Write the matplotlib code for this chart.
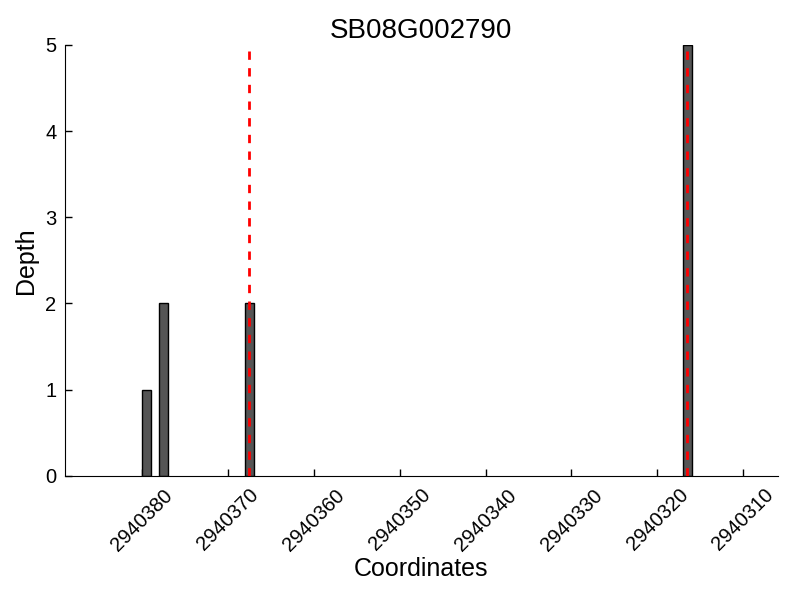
import matplotlib
matplotlib.use("Agg")
import matplotlib.pyplot as plt

gene = "SB08G002790"
positions = [2940379, 2940377, 2940367, 2940316]
depths = [1, 2, 2, 5]
marked = [2940367, 2940316]  # positions highlighted with red dashed lines
xticks = [2940380, 2940370, 2940360, 2940350, 2940340, 2940330, 2940320, 2940310]
yticks = [0, 1, 2, 3, 4, 5]

plt.rcParams['font.family'] = ['Liberation Sans', 'DejaVu Sans']
plt.rcParams['lines.scale_dashes'] = False


def plot_depth():
    fig = plt.figure(figsize=(8, 6), dpi=100)
    ax = fig.add_axes([0.081, 0.207, 0.891, 0.718])

    ax.bar(positions, depths, width=1, align='edge',
           color='#555555', edgecolor='black', linewidth=1, zorder=2)
    for p in marked:
        ax.vlines(p + 0.5, 0, max(depths), colors='red',
                  linestyles=(0, (6, 6)), linewidth=2, zorder=3)

    ax.set_xlim(max(positions) + 10, min(positions) - 10)
    ax.set_ylim(0, max(depths))
    ax.set_xticks(xticks)
    ax.set_xticklabels([str(t) for t in xticks], rotation=45, ha='center')
    ax.set_yticks(yticks)
    ax.set_axisbelow(True)

    ax.spines['top'].set_visible(False)
    ax.spines['right'].set_visible(False)
    ax.tick_params(direction='in', length=5, width=1, labelsize=14.5,
                   top=False, right=False)
    ax.tick_params(axis='x', pad=7)
    ax.tick_params(axis='y', pad=6)

    ax.set_title(gene, fontsize=20, pad=5)
    ax.set_xlabel('Coordinates', fontsize=18, labelpad=2)
    ax.set_ylabel('Depth', fontsize=18, labelpad=5)

    fig.savefig('out.png', dpi=100)


if __name__ == "__main__":
    plot_depth()
